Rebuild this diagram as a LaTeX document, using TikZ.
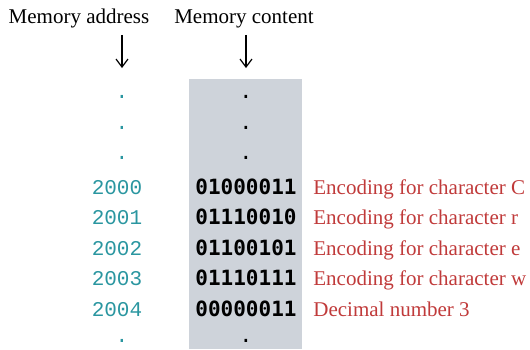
\documentclass[tikz,border=0pt]{standalone}
\usepackage{fontspec}
\setmainfont{Liberation Serif}
\newfontfamily\addrfont{Liberation Mono}
\newfontfamily\bitsfont{DejaVu Sans Mono}
\usetikzlibrary{arrows.meta}
\definecolor{memgray}{RGB}{206,211,218}
\definecolor{addrteal}{RGB}{42,150,160}
\definecolor{notered}{RGB}{192,58,58}

\begin{document}
\begin{tikzpicture}[x=0.5pt,y=-0.5pt]
	\tikzstyle{header} = [inner sep=0pt,anchor=base,font=\fontsize{10.5}{12}\selectfont]
	\tikzstyle{addr} = [inner sep=0pt,anchor=base,text=addrteal,font=\addrfont\fontsize{10.5}{12}\selectfont]
	\tikzstyle{bits} = [inner sep=0pt,anchor=base,font=\bitsfont\bfseries\fontsize{10.5}{12}\selectfont]
	\tikzstyle{cdot} = [inner sep=0pt,anchor=base,font=\bitsfont\fontsize{10.5}{12}\selectfont]
	\tikzstyle{note} = [inner sep=0pt,anchor=base west,text=notered,font=\fontsize{10.5}{12}\selectfont]
	\useasboundingbox (0,0) rectangle (530,349);
	\fill[memgray] (189,79) rectangle (302,349);

	\node[header] (addrhead) at (79,23) {Memory address};
	\node[header] (conthead) at (244,23) {Memory content};
	\coordinate (addrtip) at (122,68);
	\coordinate (conttip) at (246,68);
	\draw[-{Straight Barb[length=4pt,width=6pt]},semithick] ([yshift=-3.5pt]addrhead.south -| addrtip) -- (addrtip);
	\draw[-{Straight Barb[length=4pt,width=6pt]},semithick] ([yshift=-3.5pt]conthead.south -| conttip) -- (conttip);

	% dots above the listed cells
	\foreach \y [count=\i] in {98.5,129,159.5} {
		\node[addr] (adot\i) at (122,\y) {.};
		\node[cdot] (cdot\i) at (246,\y) {.};
	}

	% memory cells
	\foreach \a/\b/\t [count=\i] in {2000/01000011/{Encoding for character C},
		2001/01110010/{Encoding for character r},
		2002/01100101/{Encoding for character e},
		2003/01110111/{Encoding for character w},
		2004/00000011/{Decimal number 3}} {
		\node[addr] (addr\i) at (117,163.5+30.5*\i) {\a};
		\node[bits] (cell\i) at (246,163.5+30.5*\i) {\b};
		\node[note] (note\i) at (313,163.5+30.5*\i) {\t};
	}

	\node[addr] (adot4) at (122,342) {.};
	\node[cdot] (cdot4) at (246,342) {.};
\end{tikzpicture}
\end{document}
